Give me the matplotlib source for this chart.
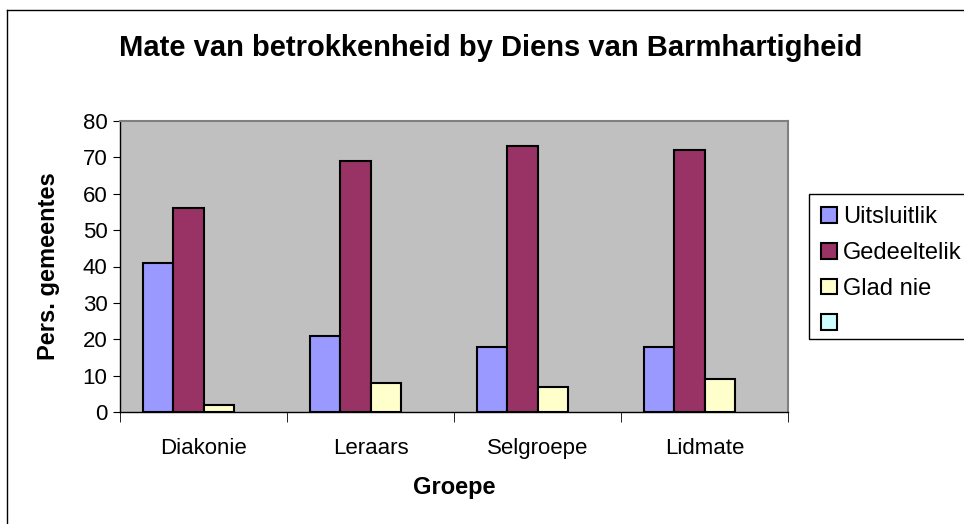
import matplotlib
matplotlib.use("Agg")
import matplotlib.pyplot as plt
import matplotlib.patches as mpatches
from matplotlib.lines import Line2D
import numpy as np

plt.rcParams['font.family'] = ['Liberation Sans', 'DejaVu Sans']

# Data
categories = ["Diakonie", "Leraars", "Selgroepe", "Lidmate"]
series_names = ["Uitsluitlik", "Gedeeltelik", "Glad nie", ""]
uitsluitlik = [41, 21, 18, 18]
gedeeltelik = [56, 69, 73, 72]
glad_nie = [2, 8, 7, 9]
leeg = []  # fourth series has no values
colors = ["#9999FF", "#993366", "#FFFFCC", "#CCFFFF"]

fig = plt.figure(figsize=(9.64, 5.24), dpi=100)
ax = fig.add_axes([120 / 964, 1 - 412 / 524, 668 / 964, 291 / 524])
ax.set_facecolor("#C0C0C0")

x = np.arange(len(categories))
w = 1 / 5.5
for i, vals in enumerate([uitsluitlik, gedeeltelik, glad_nie, leeg]):
    if len(vals) == 0:
        continue
    ax.bar(x + (i - 1.5) * w, vals, w, color=colors[i], edgecolor="black",
           linewidth=1.5, zorder=3)

ax.set_xlim(-0.5, len(categories) - 0.5)
ax.set_ylim(0, 80)
ax.set_yticks(range(0, 81, 10))
ax.tick_params(axis="y", labelsize=16, length=5, direction="out", pad=4)

ax.set_xticks(x)
ax.set_xticklabels(categories, fontsize=16)
ax.tick_params(axis="x", length=0, pad=19)
ax.set_xticks(np.arange(-0.5, len(categories)), minor=True)
ax.tick_params(axis="x", which="minor", length=7, direction="out")

for s in ["top", "right"]:
    ax.spines[s].set_color("#808080")
    ax.spines[s].set_linewidth(1.5)
for s in ["left", "bottom"]:
    ax.spines[s].set_color("black")
    ax.spines[s].set_linewidth(1)

ax.set_ylabel("Pers. gemeentes", fontsize=17, fontweight="bold", labelpad=16)
ax.set_xlabel("Groepe", fontsize=17, fontweight="bold", labelpad=12)

fig.text(491 / 964, 1 - 48 / 524, "Mate van betrokkenheid by Diens van Barmhartigheid",
         ha="center", va="center", fontsize=21, fontweight="bold")

# outer chart border (only left and top visible)
fig.add_artist(Line2D([7 / 964, 7 / 964], [0, 1 - 10 / 524], color="black", linewidth=1))
fig.add_artist(Line2D([7 / 964, 1], [1 - 10 / 524, 1 - 10 / 524], color="black", linewidth=1))

# legend box
fig.add_artist(mpatches.Rectangle((809 / 964, 1 - 339 / 524), 0.2, 145 / 524,
                                  transform=fig.transFigure, facecolor="white",
                                  edgecolor="black", linewidth=1))
handles = [mpatches.Patch(facecolor=c, edgecolor="black", linewidth=1.5) for c in colors]
leg = fig.legend(handles, series_names, loc="upper left",
                 bbox_to_anchor=(812 / 964, 1 - 197 / 524), frameon=False,
                 fontsize=17, handlelength=0.65, handleheight=0.65,
                 handletextpad=0.25, labelspacing=0.58, borderaxespad=0)

fig.savefig("out.png", dpi=100)
